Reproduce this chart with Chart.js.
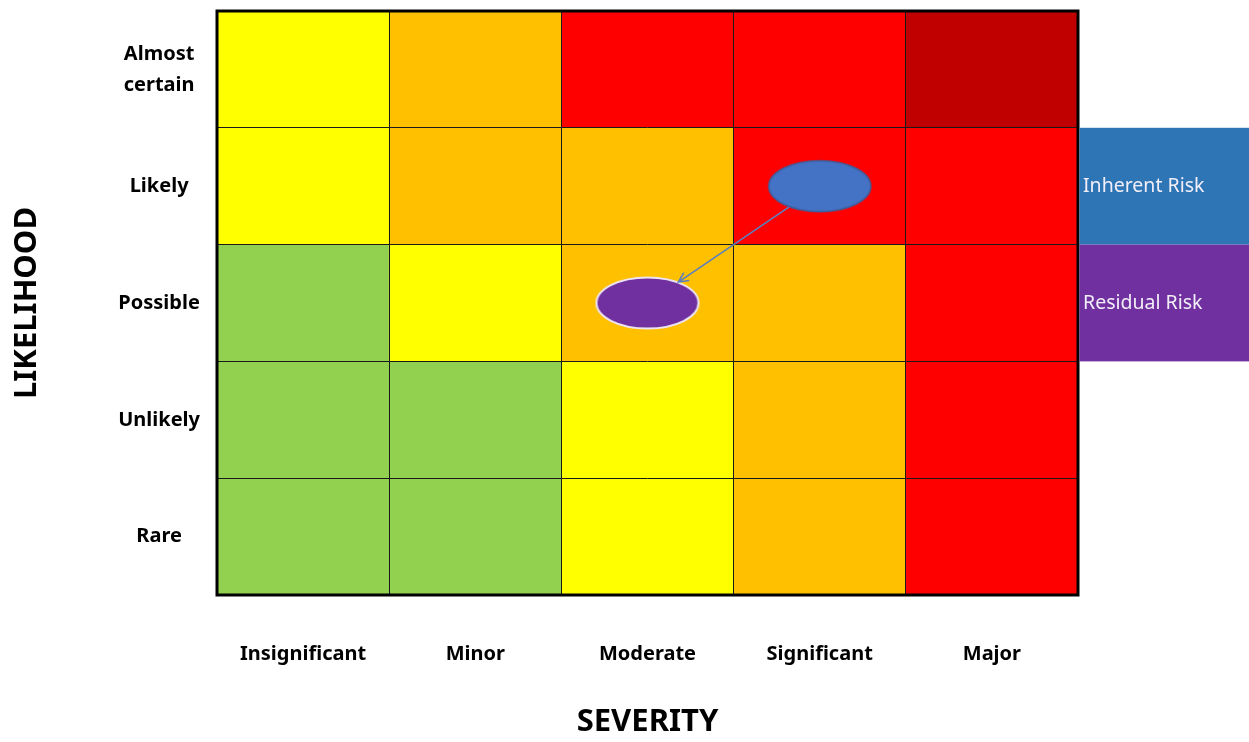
<!DOCTYPE html>
<html>
<head>
<meta charset="utf-8">
<script src="https://cdn.jsdelivr.net/npm/chart.js@4/dist/chart.umd.min.js"></script>
<style>
    body { margin: 0; background: #fff; }
    #wrap { width: 1249px; height: 742px; }
</style>
</head>
<body>
<div id="wrap"><canvas id="riskChart" width="1249" height="742"></canvas></div>
<script>
const severity = ["Insignificant", "Minor", "Moderate", "Significant", "Major"];
// top row first
const likelihood = ["Almost certain", "Likely", "Possible", "Unlikely", "Rare"];

const riskAlmostCertain = ["Medium", "High", "Very high", "Very high", "Extreme"];
const riskLikely = ["Medium", "High", "High", "Very high", "Very high"];
const riskPossible = ["Low", "Medium", "High", "High", "Very high"];
const riskUnlikely = ["Low", "Low", "Medium", "High", "Very high"];
const riskRare = ["Low", "Low", "Medium", "High", "Very high"];

const inherentRisk = { severity: "Significant", likelihood: "Likely" };
const residualRisk = { severity: "Moderate", likelihood: "Possible" };
const legendLabels = ["Inherent Risk", "Residual Risk"];

const levelColors = {
    "Low": "#92D050",
    "Medium": "#FFFF00",
    "High": "#FFC000",
    "Very high": "#FF0000",
    "Extreme": "#C00000",
};

const riskRows = [riskAlmostCertain, riskLikely, riskPossible, riskUnlikely, riskRare];

// bottom row (Rare) is stacked first
const cellDatasets = riskRows
    .map((row, i) => ({
        type: "bar",
        label: likelihood[i],
        data: row.map(() => 1),
        backgroundColor: row.map((lvl) => levelColors[lvl]),
        borderWidth: 0,
        barPercentage: 1,
        categoryPercentage: 1,
        stack: "cells",
        order: 2,
        yAxisID: "y",
    }))
    .reverse();

function rowCenter(name) {
    return likelihood.length - 1 - likelihood.indexOf(name) + 0.5;
}

function makeEllipse(fill, stroke, strokeWidth) {
    const c = document.createElement("canvas");
    c.width = 108;
    c.height = 56;
    const g = c.getContext("2d");
    g.beginPath();
    g.ellipse(54, 28, 51, 25.5, 0, 0, Math.PI * 2);
    g.fillStyle = fill;
    g.fill();
    g.lineWidth = strokeWidth;
    g.strokeStyle = stroke;
    g.stroke();
    return c;
}

const blueEllipse = makeEllipse("#4472C4", "#3A5F9E", 1.5);
const purpleEllipse = makeEllipse("#7030A0", "#EDE4F3", 2);

const pointDatasets = [
    {
        type: "scatter",
        label: legendLabels[0],
        data: [{ x: inherentRisk.severity, y: rowCenter(inherentRisk.likelihood) }],
        pointStyle: blueEllipse,
        pointRadius: 26,
        order: 0,
        stack: "p1",
        yAxisID: "yPts",
    },
    {
        type: "scatter",
        label: legendLabels[1],
        data: [{ x: residualRisk.severity, y: rowCenter(residualRisk.likelihood) }],
        pointStyle: purpleEllipse,
        pointRadius: 26,
        order: 0,
        stack: "p2",
        yAxisID: "yPts",
    },
];

function ellipseEdge(cx, cy, dx, dy, a, b) {
    const len = Math.hypot(dx, dy);
    const ux = dx / len, uy = dy / len;
    const t = 1 / Math.sqrt((ux / a) ** 2 + (uy / b) ** 2);
    return [cx + ux * t, cy + uy * t];
}

const overlayPlugin = {
    id: "overlay",
    afterDraw(chart) {
        const { ctx, chartArea } = chart;
        const ys = chart.scales.yPts;

        // arrow from inherent to residual
        const p1 = chart.getDatasetMeta(5).data[0];
        const p2 = chart.getDatasetMeta(6).data[0];
        const dx = p2.x - p1.x, dy = p2.y - p1.y;
        const [sx, sy] = ellipseEdge(p1.x, p1.y, dx, dy, 52, 26);
        const [ex, ey] = ellipseEdge(p2.x, p2.y, -dx, -dy, 52, 26);
        ctx.save();
        ctx.strokeStyle = "#5B7FBE";
        ctx.lineWidth = 1.6;
        ctx.beginPath();
        ctx.moveTo(sx, sy);
        ctx.lineTo(ex, ey);
        const ang = Math.atan2(ey - sy, ex - sx);
        ctx.moveTo(ex - 11 * Math.cos(ang - 0.45), ey - 11 * Math.sin(ang - 0.45));
        ctx.lineTo(ex, ey);
        ctx.lineTo(ex - 11 * Math.cos(ang + 0.45), ey - 11 * Math.sin(ang + 0.45));
        ctx.stroke();

        // outer frame
        ctx.strokeStyle = "#000";
        ctx.lineWidth = 3;
        ctx.strokeRect(chartArea.left, chartArea.top, chartArea.right - chartArea.left, chartArea.bottom - chartArea.top);

        // legend boxes next to the rows
        const boxes = [
            { text: legendLabels[0], color: "#2E75B6", row: inherentRisk.likelihood },
            { text: legendLabels[1], color: "#7030A0", row: residualRisk.likelihood },
        ];
        const x0 = chartArea.right + 1.5;
        boxes.forEach((b) => {
            const c = rowCenter(b.row);
            const top = ys.getPixelForValue(c + 0.5);
            const bottom = ys.getPixelForValue(c - 0.5);
            ctx.fillStyle = b.color;
            ctx.fillRect(x0, top, chart.width - x0, bottom - top);
            ctx.fillStyle = "#F2EEF8";
            ctx.font = "19.5px 'Noto Sans'";
            ctx.textBaseline = "middle";
            ctx.textAlign = "left";
            ctx.fillText(b.text, chartArea.right + 5, (top + bottom) / 2);
        });
        ctx.restore();
    },
};

const ctx = document.getElementById("riskChart").getContext("2d");

new Chart(ctx, {
    type: "bar",
    data: {
        labels: severity,
        datasets: [...cellDatasets, ...pointDatasets],
    },
    options: {
        responsive: false,
        animation: false,
        events: [],
        layout: { autoPadding: false, padding: { top: 11, right: 171, left: 0, bottom: 0 } },
        plugins: {
            legend: { display: false },
            tooltip: { enabled: false },
        },
        scales: {
            x: {
                type: "category",
                offset: true,
                grid: { offset: true, color: "#1a1a1a", lineWidth: 1, drawTicks: false, z: 1 },
                border: { display: false },
                ticks: {
                    padding: 47,
                    color: "#000",
                    font: { family: "'Noto Sans'", size: 20, weight: "bold" },
                },
                title: {
                    display: true,
                    text: "SEVERITY",
                    color: "#000",
                    padding: { top: 0, bottom: 1 },
                    font: { family: "'Noto Sans'", size: 31, weight: "bold" },
                },
                afterFit(scale) {
                    scale.height = 147;
                    scale.paddingLeft = 0;
                    scale.paddingRight = 0;
                },
            },
            y: {
                type: "linear",
                stacked: true,
                min: 0,
                max: likelihood.length,
                display: false,
            },
            yPts: {
                type: "linear",
                min: 0,
                max: likelihood.length,
                display: false,
            },
            yLab: {
                type: "category",
                position: "left",
                labels: likelihood,
                offset: true,
                grid: { offset: true, color: "#1a1a1a", lineWidth: 1, drawTicks: false, z: 1 },
                border: { display: false },
                ticks: {
                    padding: 17,
                    crossAlign: "center",
                    color: "#000",
                    font: { family: "'Noto Sans'", size: 20, weight: "bold", lineHeight: 1.55 },
                    callback: function (value, index) {
                        const l = likelihood[index];
                        return l.includes(" ") ? l.split(" ") : l;
                    },
                },
                title: {
                    display: true,
                    text: "LIKELIHOOD",
                    color: "#000",
                    padding: { top: 9, bottom: 0 },
                    font: { family: "'Noto Sans'", size: 31, weight: "bold" },
                },
                afterFit(scale) {
                    scale.width = 217;
                    scale.paddingTop = 0;
                    scale.paddingBottom = 0;
                },
            },
        },
    },
    plugins: [overlayPlugin],
});
</script>
</body>
</html>
